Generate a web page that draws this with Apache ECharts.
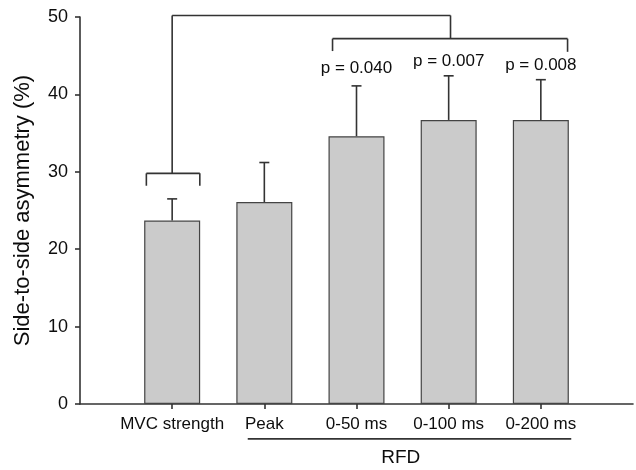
<!DOCTYPE html>
<html lang="en">

<head>
    <meta charset="UTF-8">
    <title>Side-to-side asymmetry</title>
    <script src="https://cdn.jsdelivr.net/npm/echarts@6/dist/echarts.min.js"></script>
    <style>
        html, body { margin: 0; padding: 0; background: #fff; }
        #chart { width: 636px; height: 470px; }
    </style>
</head>

<body>
    <div id="chart"></div>

    <script>
        // values
        var categories = ['MVC strength', 'Peak', '0-50 ms', '0-100 ms', '0-200 ms'];
        var means = [23.7, 26.1, 34.6, 36.7, 36.7];
        var errorTops = [26.5, 31.2, 41.1, 42.4, 41.9];
        var pLabels = ['', '', 'p = 0.040', 'p = 0.007', 'p = 0.008'];
        var pLabelY = [0, 0, 43.4, 44.3, 43.8];
        var yTicks = [0, 10, 20, 30, 40, 50];

        // axis has an empty slot at each end, bars sit on 1..5
        var axisCats = [''].concat(categories, ['']);
        var barData = [null].concat(means, [null]);

        var font = '"Liberation Sans", Arial, sans-serif';
        var ink = '#0d0d0d';
        var lineColor = '#333333';

        // fractional category position -> pixel
        function pt(api, x, y) {
            var i = Math.floor(x);
            var a = api.coord([i, y]);
            var b = api.coord([i + 1, y]);
            return [a[0] + (x - i) * (b[0] - a[0]), a[1]];
        }

        function seg(api, x1, y1, x2, y2) {
            var p1 = pt(api, x1, y1), p2 = pt(api, x2, y2);
            return {
                type: 'line',
                shape: { x1: p1[0], y1: p1[1], x2: p2[0], y2: p2[1] },
                style: { stroke: lineColor, lineWidth: 1.6 }
            };
        }

        function errorBars(params, api) {
            var idx = api.value(0);
            var top = api.coord([idx, api.value(2)]);
            var base = api.coord([idx, api.value(1)]);
            var half = 5;
            return {
                type: 'group',
                children: [
                    { type: 'line', shape: { x1: base[0], y1: base[1], x2: top[0], y2: top[1] }, style: { stroke: lineColor, lineWidth: 1.6 } },
                    { type: 'line', shape: { x1: top[0] - half, y1: top[1], x2: top[0] + half, y2: top[1] }, style: { stroke: lineColor, lineWidth: 1.6 } }
                ]
            };
        }

        function annotations(params, api) {
            var kids = [];
            // bracket over MVC strength
            kids.push(seg(api, 0.72, 29.8, 1.30, 29.8));
            kids.push(seg(api, 0.72, 29.8, 0.72, 28.2));
            kids.push(seg(api, 1.30, 29.8, 1.30, 28.2));
            // bracket over RFD 0-50..0-200
            kids.push(seg(api, 2.74, 47.2, 5.29, 47.2));
            kids.push(seg(api, 2.74, 47.2, 2.74, 45.6));
            kids.push(seg(api, 5.29, 47.2, 5.29, 45.5));
            // big connecting bracket
            kids.push(seg(api, 1, 50.2, 4.02, 50.2));
            kids.push(seg(api, 1, 50.2, 1, 29.8));
            kids.push(seg(api, 4.02, 50.2, 4.02, 47.2));
            // p values
            for (var i = 0; i < pLabels.length; i++) {
                if (!pLabels[i]) continue;
                var p = pt(api, i + 1, pLabelY[i]);
                kids.push({
                    type: 'text',
                    style: { text: pLabels[i], x: p[0], y: p[1], align: 'center', verticalAlign: 'middle', font: '17px ' + font, fill: ink }
                });
            }
            // RFD underline and label
            kids.push(seg(api, 1.82, -4.5, 5.33, -4.5));
            var r = pt(api, 3.48, -6.9);
            kids.push({
                type: 'text',
                style: { text: 'RFD', x: r[0], y: r[1], align: 'center', verticalAlign: 'middle', font: '19px ' + font, fill: ink }
            });
            return { type: 'group', children: kids };
        }

        var errData = means.map(function (m, i) { return [i + 1, m, errorTops[i]]; });

        var chart = echarts.init(document.getElementById('chart'), null, { renderer: 'canvas' });
        chart.setOption({
            animation: false,
            backgroundColor: '#fff',
            grid: { left: 80, right: 0, top: 17, bottom: 66, containLabel: false },
            xAxis: {
                type: 'category',
                data: axisCats,
                boundaryGap: false,
                axisLine: { lineStyle: { color: lineColor, width: 1.6 } },
                axisTick: {
                    length: 5,
                    lineStyle: { color: lineColor, width: 1.6 },
                    interval: function (i) { return i > 0 && i < axisCats.length - 1; }
                },
                axisLabel: {
                    margin: 12,
                    fontSize: 17,
                    fontFamily: font,
                    color: ink,
                    interval: 0
                },
                splitLine: { show: false }
            },
            yAxis: {
                type: 'value',
                min: yTicks[0],
                max: yTicks[yTicks.length - 1],
                interval: 10,
                name: 'Side-to-side asymmetry (%)',
                nameLocation: 'middle',
                nameGap: 46,
                nameTextStyle: { fontSize: 22, fontFamily: font, color: ink },
                axisLine: { show: true, lineStyle: { color: lineColor, width: 1.6 } },
                axisTick: { show: true, length: 5, lineStyle: { color: lineColor, width: 1.6 } },
                axisLabel: { margin: 12, fontSize: 18, fontFamily: font, color: ink },
                splitLine: { show: false }
            },
            series: [
                {
                    type: 'bar',
                    data: barData,
                    barWidth: 56,
                    itemStyle: { color: '#cbcbcb', borderColor: '#444444', borderWidth: 1.2 },
                    z: 2
                },
                {
                    type: 'custom',
                    data: errData,
                    renderItem: errorBars,
                    z: 3
                },
                {
                    type: 'custom',
                    data: [[0, 0]],
                    renderItem: annotations,
                    clip: false,
                    z: 4
                }
            ]
        });
    </script>
</body>

</html>
